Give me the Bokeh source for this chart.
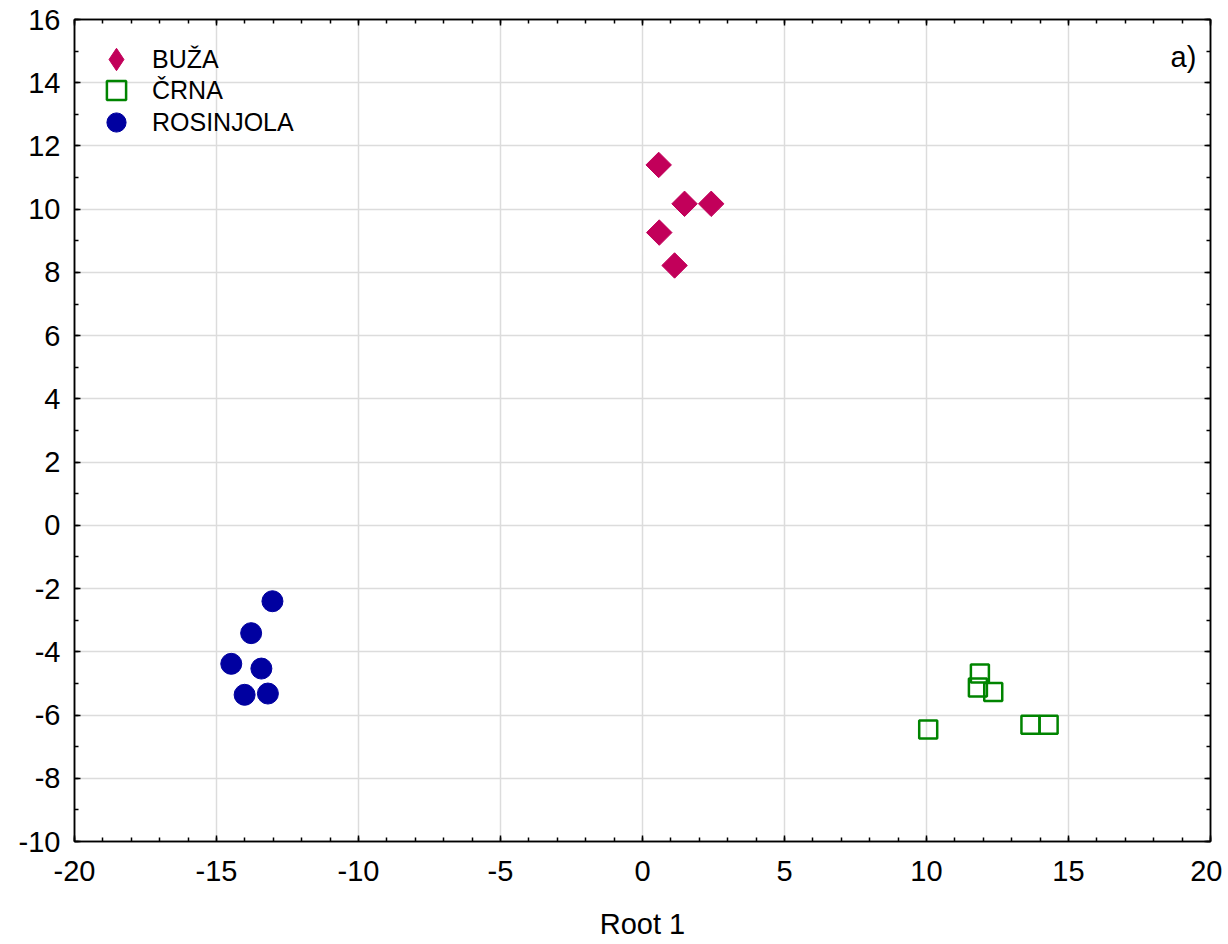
from bokeh.plotting import figure
from bokeh.models import (FixedTicker, LinearAxis, Legend, LegendItem, Label,
                          Range1d, PrintfTickFormatter)
from bokeh.embed import file_html
from bokeh.resources import INLINE

# ---- data ----
buza_x = [0.57, 1.48, 2.42, 0.59, 1.13]
buza_y = [11.40, 10.17, 10.17, 9.26, 8.22]

crna_x = [11.88, 11.81, 12.35, 10.06, 13.66, 14.30]
crna_y = [-4.69, -5.13, -5.27, -6.46, -6.31, -6.31]

ros_x = [-13.03, -13.78, -14.48, -13.42, -14.01, -13.19]
ros_y = [-2.40, -3.41, -4.38, -4.53, -5.36, -5.32]

series_names = ["BUŽA", "ČRNA", "ROSINJOLA"]
x_ticks = list(range(-20, 21, 5))
x_minor = list(range(-20, 21, 1))
y_ticks = list(range(-10, 17, 2))
y_minor = list(range(-10, 17, 1))
x_title = "Root 1"
panel_tag = "a)"

FONT = "Liberation Sans"
TICK_FS = "29px"

p = figure(width=1222, height=943, output_backend="svg", toolbar_location=None,
           x_range=Range1d(-20, 20), y_range=Range1d(-10, 16),
           min_border_left=74, min_border_right=12, min_border_top=19,
           min_border_bottom=102)
p.background_fill_color = "white"
p.border_fill_color = "white"
p.outline_line_color = "black"
p.outline_line_width = 1.5


def style_ticks(ax):
    ax.major_tick_in = 6
    ax.major_tick_out = 0
    ax.minor_tick_in = 4
    ax.minor_tick_out = 0
    ax.axis_line_color = "black"
    ax.axis_line_width = 1.5
    ax.major_tick_line_color = "black"
    ax.major_tick_line_width = 1.5
    ax.minor_tick_line_color = "black"
    ax.minor_tick_line_width = 1.5


# main axes
for ax, ticks, minor in ((p.xaxis[0], x_ticks, x_minor), (p.yaxis[0], y_ticks, y_minor)):
    ax.ticker = FixedTicker(ticks=ticks, minor_ticks=minor)
    ax.formatter = PrintfTickFormatter(format="%d")
    style_ticks(ax)
    ax.major_label_text_font = FONT
    ax.major_label_text_font_size = TICK_FS
    ax.major_label_text_color = "black"

p.xaxis[0].major_label_standoff = 19
p.yaxis[0].major_label_standoff = 14
p.xaxis[0].axis_label = x_title
p.xaxis[0].axis_label_text_font = FONT
p.xaxis[0].axis_label_text_font_size = TICK_FS
p.xaxis[0].axis_label_text_font_style = "normal"
p.xaxis[0].axis_label_text_color = "black"
p.xaxis[0].axis_label_standoff = 24

# mirror axes (ticks only, no labels)
for loc, ticks, minor in (("above", x_ticks, x_minor), ("right", y_ticks, y_minor)):
    ax = LinearAxis(ticker=FixedTicker(ticks=ticks, minor_ticks=minor))
    style_ticks(ax)
    ax.major_label_overrides = {t: "" for t in ticks}
    ax.major_label_standoff = 0
    p.add_layout(ax, loc)

# grid
p.xgrid.ticker = FixedTicker(ticks=x_ticks)
p.ygrid.ticker = FixedTicker(ticks=y_ticks)
p.grid.grid_line_color = "#dcdcdc"
p.grid.grid_line_width = 1.5

# data glyphs
RED = "#c2005a"
GREEN = "#008400"
BLUE = "#0000a0"

r_buza = p.scatter(buza_x, buza_y, marker="square", angle=0.785398, size=18,
                   fill_color=RED, line_color=RED, line_width=1)
r_crna = p.scatter(crna_x, crna_y, marker="square", size=18,
                   fill_color=None, line_color=GREEN, line_width=2.5)
r_ros = p.scatter(ros_x, ros_y, marker="circle", size=21,
                  fill_color=BLUE, line_color=BLUE, line_width=1)

# legend proxy for the diamond (legend glyphs are drawn unrotated); NaN -> not drawn in plot
nan = float("nan")
leg_buza = p.scatter(x=[nan], y=[nan], marker="diamond", size=17,
                     fill_color=RED, line_color=RED, line_width=1)

# one legend per entry so that large legend glyphs can sit close together
leg_renderers = [leg_buza, r_crna, r_ros]
leg_boxes = [56, 48, 48]
leg_x = [14, 18, 18]
leg_y = [754, 727, 695]
leg_standoff = [8, 12, 12]
for name, rend, box, vx, vy, so in zip(series_names, leg_renderers, leg_boxes,
                                       leg_x, leg_y, leg_standoff):
    lg = Legend(items=[LegendItem(label=name, renderers=[rend])], location=(vx, vy))
    lg.background_fill_alpha = 0
    lg.border_line_color = None
    lg.margin = 0
    lg.padding = 0
    lg.glyph_width = box
    lg.glyph_height = box
    lg.label_height = 24
    lg.spacing = 0
    lg.label_standoff = so
    lg.label_text_font = FONT
    lg.label_text_font_size = "25px"
    lg.label_text_color = "black"
    p.add_layout(lg, "center")

p.add_layout(Label(x=19.5, y=14.8, text=panel_tag, text_align="right",
                   text_baseline="alphabetic", text_font=FONT,
                   text_font_size=TICK_FS, text_color="black"))

open("out.html", "w").write(file_html(p, INLINE))
